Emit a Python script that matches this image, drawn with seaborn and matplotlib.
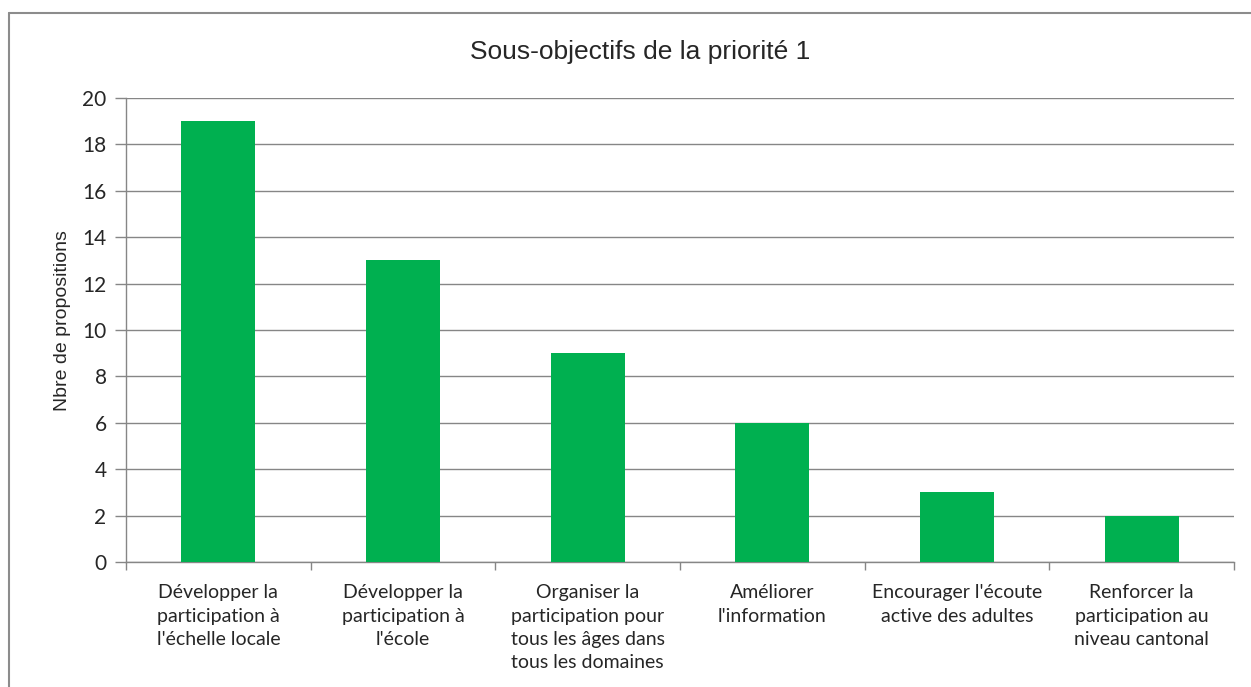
import matplotlib
matplotlib.use("Agg")
import matplotlib.pyplot as plt
import seaborn as sns
import pandas as pd
import numpy as np
from matplotlib.lines import Line2D

categories = [
    "Développer la\nparticipation à\nl'échelle locale",
    "Développer la\nparticipation à\nl'école",
    "Organiser la\nparticipation pour\ntous les âges dans\ntous les domaines",
    "Améliorer\nl'information",
    "Encourager l'écoute\nactive des adultes",
    "Renforcer la\nparticipation au\nniveau cantonal",
]
values = [19, 13, 9, 6, 3, 2]
yticks = [0, 2, 4, 6, 8, 10, 12, 14, 16, 18, 20]

sns.set_theme(style="white")
plt.rcParams['font.family'] = ['Lato', 'DejaVu Sans']

W, H = 1251, 687
fig = plt.figure(figsize=(W / 100, H / 100), dpi=100)
ax = fig.add_axes([126 / W, 1 - 562 / H, (1234 - 126) / W, (562 - 98) / H])

df = pd.DataFrame({"cat": categories, "val": values})
sns.barplot(data=df, x="cat", y="val", color="#00B050", width=0.4,
            saturation=1, linewidth=0, ax=ax, zorder=3)

grid_c = "#868686"
ax.set_ylim(0, 20)
ax.set_xlim(-0.5, len(categories) - 0.5)
ax.set_yticks(yticks)
ax.set_yticklabels([str(t) for t in yticks], fontsize=15)
ax.yaxis.grid(True, color=grid_c, lw=1, zorder=0)
ax.set_axisbelow(True)
ax.tick_params(axis="y", direction="out", length=8, width=1, color=grid_c,
               left=True, pad=6)
ax.set_xticks(range(len(categories)))
ax.set_xticklabels(categories, fontsize=14, linespacing=1.45)
ax.tick_params(axis="x", which="major", length=0, pad=16)
ax.set_xticks(np.arange(-0.5, len(categories)), minor=True)
ax.tick_params(axis="x", which="minor", direction="out", length=6, width=1,
               color=grid_c, bottom=True)
for s in ["top", "right"]:
    ax.spines[s].set_visible(False)
for s in ["left", "bottom"]:
    ax.spines[s].set_color(grid_c)
    ax.spines[s].set_linewidth(1)

ax.set_xlabel("")
ax.set_ylabel("Nbre de propositions", fontsize=14, family="Liberation Sans",
              labelpad=10)
ax.yaxis.set_label_coords(-0.05, 0.52)
fig.text(640 / W, 1 - 52 / H, "Sous-objectifs de la priorité 1",
         fontsize=19, family="Liberation Sans", ha="center", va="center")

# outer chart frame (left and top edges visible)
fig.add_artist(Line2D([9 / W, 9 / W], [0, 1 - 13 / H], transform=fig.transFigure,
                      color="#8c8c8c", lw=1.5))
fig.add_artist(Line2D([9 / W, 1], [1 - 13 / H, 1 - 13 / H], transform=fig.transFigure,
                      color="#8c8c8c", lw=1.5))

fig.savefig("out.png", dpi=100)
